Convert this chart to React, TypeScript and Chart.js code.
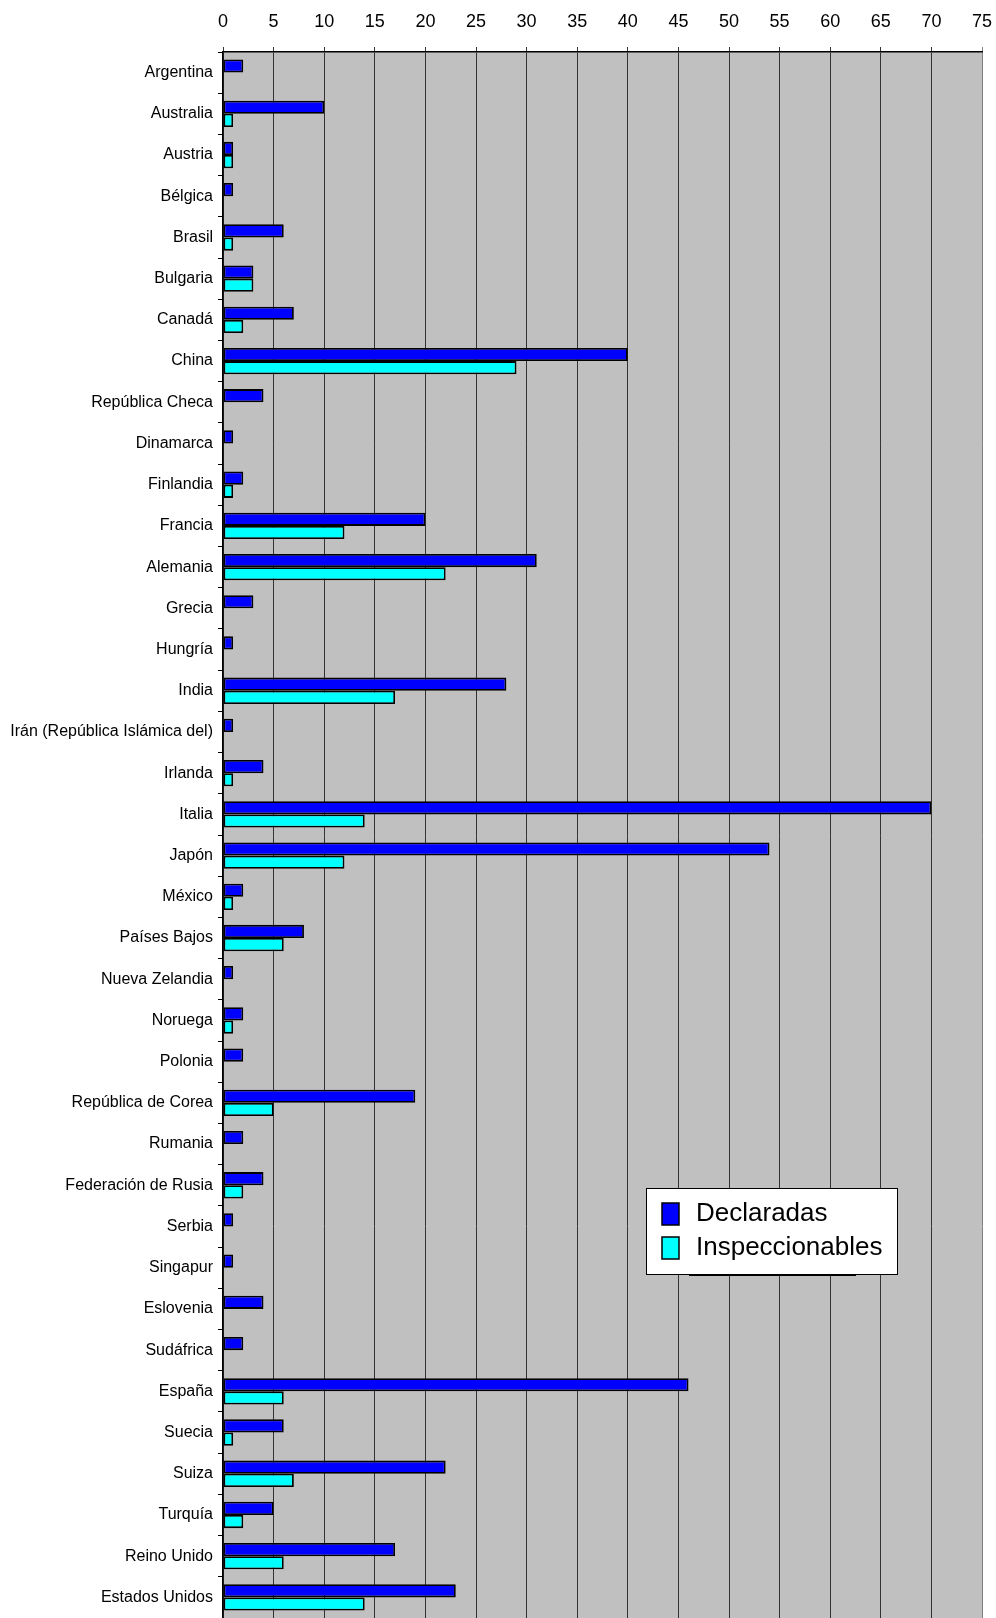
import React, { useEffect, useRef } from "react";
import { Chart, registerables } from "chart.js";

Chart.register(...registerables);

const countries = [
  "Argentina", "Australia", "Austria", "Bélgica", "Brasil", "Bulgaria", "Canadá", "China",
  "República Checa", "Dinamarca", "Finlandia", "Francia", "Alemania", "Grecia", "Hungría",
  "India", "Irán (República Islámica del)", "Irlanda", "Italia", "Japón", "México",
  "Países Bajos", "Nueva Zelandia", "Noruega", "Polonia", "República de Corea", "Rumania",
  "Federación de Rusia", "Serbia", "Singapur", "Eslovenia", "Sudáfrica", "España", "Suecia",
  "Suiza", "Turquía", "Reino Unido", "Estados Unidos",
];

const declaradas = [
  2, 10, 1, 1, 6, 3, 7, 40,
  4, 1, 2, 20, 31, 3, 1,
  28, 1, 4, 70, 54, 2,
  8, 1, 2, 2, 19, 2,
  4, 1, 1, 4, 2, 46, 6,
  22, 5, 17, 23,
];

const inspeccionables = [
  0, 1, 1, 0, 1, 3, 2, 29,
  0, 0, 1, 12, 22, 0, 0,
  17, 0, 1, 14, 12, 1,
  6, 0, 1, 0, 5, 0,
  2, 0, 0, 0, 0, 6, 1,
  7, 2, 6, 14,
];

const seriesNames = ["Declaradas", "Inspeccionables"];
const seriesColors = ["#0000FF", "#00FFFF"];

const FONT = "'Liberation Sans', Arial, sans-serif";

const bgPlugin = {
  id: "plotBg",
  beforeDraw(chart: any) {
    const { ctx, chartArea } = chart;
    ctx.save();
    ctx.fillStyle = "#C0C0C0";
    ctx.fillRect(chartArea.left, chartArea.top, chartArea.right - chartArea.left, chartArea.bottom - chartArea.top);
    ctx.restore();
  },
};

const legendPlugin = {
  id: "boxLegend",
  afterDraw(chart: any) {
    const { ctx } = chart;
    const x = 646, y = 1188, w = 251, h = 86;
    ctx.save();
    ctx.fillStyle = "#000";
    ctx.fillRect(689, y + h, 167, 2);
    ctx.fillStyle = "#FFFFFF";
    ctx.fillRect(x, y, w, h);
    ctx.strokeStyle = "#000";
    ctx.lineWidth = 1;
    ctx.strokeRect(x + 0.5, y + 0.5, w, h);
    const rows = [1214, 1248];
    ctx.font = `26px ${FONT}`;
    ctx.textBaseline = "middle";
    ctx.textAlign = "left";
    seriesNames.forEach((name, i) => {
      const cy = rows[i];
      ctx.fillStyle = seriesColors[i];
      ctx.fillRect(662, cy - 11, 17, 22);
      ctx.strokeStyle = "#000";
      ctx.lineWidth = 1.5;
      ctx.strokeRect(662, cy - 11, 17, 22);
      ctx.fillStyle = "#000";
      ctx.fillText(name, 696, cy);
    });
    ctx.restore();
  },
};

export default function App() {
  const ref = useRef<HTMLCanvasElement | null>(null);

  useEffect(() => {
    if (!ref.current) return;
    const chart = new Chart(ref.current, {
      type: "bar",
      data: {
        labels: countries,
        datasets: [
          {
            label: seriesNames[0],
            data: declaradas,
            backgroundColor: seriesColors[0],
            borderColor: "#000",
            borderWidth: 1.8,
            borderSkipped: false,
            categoryPercentage: 0.64,
            barPercentage: 1.0,
          },
          {
            label: seriesNames[1],
            data: inspeccionables,
            backgroundColor: seriesColors[1],
            borderColor: "#000",
            borderWidth: 1.8,
            borderSkipped: false,
            categoryPercentage: 0.64,
            barPercentage: 1.0,
          },
        ],
      },
      options: {
        indexAxis: "y",
        animation: false,
        responsive: false,
        maintainAspectRatio: false,
        layout: { padding: { left: 0, top: 0, bottom: 0, right: 14 } },
        plugins: {
          legend: { display: false },
          tooltip: { enabled: false },
        },
        scales: {
          x: {
            position: "top",
            min: 0,
            max: 75,
            ticks: {
              stepSize: 5,
              color: "#000",
              font: { family: FONT, size: 18 },
              padding: 14,
              maxRotation: 0,
            },
            grid: {
              color: (c: any) => (c.tick && c.tick.value === 75 ? "#808080" : "#333333"),
              lineWidth: 1,
              tickLength: 5,
            },
            border: { color: "#000", width: 1.5 },
            afterFit(scale: any) {
              scale.height = 52;
              scale.paddingLeft = 0;
              scale.paddingRight = 0;
            },
          },
          y: {
            ticks: {
              color: "#000",
              font: { family: FONT, size: 16 },
              padding: 5,
              autoSkip: false,
            },
            grid: {
              drawOnChartArea: false,
              color: "#000",
              tickLength: 5,
              offset: true,
            },
            border: { color: "#000", width: 1.5 },
            afterFit(scale: any) {
              scale.width = 223;
              scale.paddingTop = 0;
              scale.paddingBottom = 0;
            },
          },
        },
      },
      plugins: [bgPlugin, legendPlugin],
    });
    return () => chart.destroy();
  }, []);

  return (
    <canvas
      ref={ref}
      width={996}
      height={1618}
      style={{ position: "absolute", left: 0, top: 0, display: "block" }}
    />
  );
}
